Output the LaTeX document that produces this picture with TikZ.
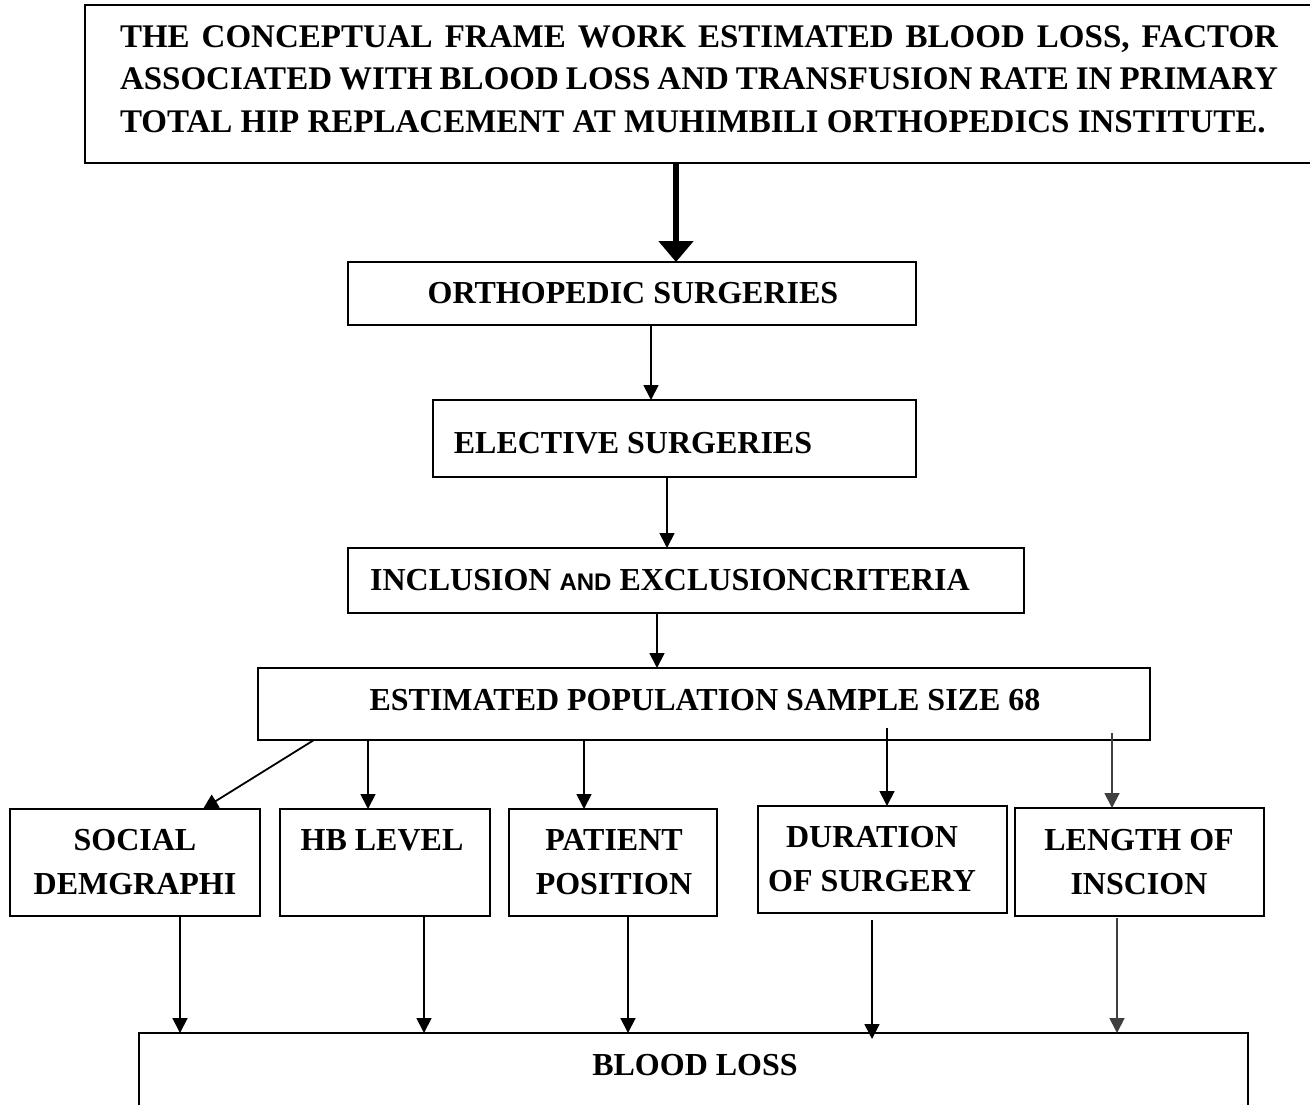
\documentclass[tikz,border=0pt]{standalone}
\usepackage{fontspec}
\setmainfont{Liberation Serif}
\newfontfamily\arialfam{Liberation Sans}
\usetikzlibrary{arrows.meta}
\begin{document}
\begin{tikzpicture}[x=1pt,y=-1pt,
  box/.style={draw=black, line width=2pt, inner sep=0pt, outer sep=0pt, rectangle},
  txt/.style={font=\fontsize{32}{44}\selectfont\bfseries, inner sep=0pt, align=center},
  arr/.style={line width=1.8pt, -{Triangle[length=15pt,width=15pt]}},
  garr/.style={arr, draw=black!75, fill=black!75},
  bigarr/.style={line width=6.5pt, -{Triangle[length=21pt,width=34pt]}}
]
\useasboundingbox (0,0) rectangle (1310,1105);

% boxes
\node[box, minimum width=1230, minimum height=158] (title) at (700,84) {};
\node[box, minimum width=568, minimum height=63] (orth) at (632,293.5) {};
\node[box, minimum width=483, minimum height=77] (elec) at (674.5,438.5) {};
\node[box, minimum width=676, minimum height=65] (incl) at (686,580.5) {};
\node[box, minimum width=892, minimum height=72] (est) at (704,704) {};
\node[box, minimum width=250, minimum height=107] (soc) at (135,862.5) {};
\node[box, minimum width=210, minimum height=107] (hb) at (385,862.5) {};
\node[box, minimum width=208, minimum height=107] (pat) at (613,862.5) {};
\node[box, minimum width=249, minimum height=107] (dur) at (882.5,859.5) {};
\node[box, minimum width=249, minimum height=108] (len) at (1139.5,862) {};
\node[box, minimum width=1109, minimum height=92] (loss) at (693.5,1079) {};

% texts
\node[inner sep=0pt, text width=1158pt, align=justify,
      font=\fontsize{33}{42.5}\selectfont\bfseries] (ttitle) at (699,79)
  {THE CONCEPTUAL FRAME WORK ESTIMATED BLOOD LOSS, FACTOR ASSOCIATED WITH BLOOD LOSS AND TRANSFUSION RATE IN PRIMARY TOTAL HIP REPLACEMENT AT MUHIMBILI ORTHOPEDICS INSTITUTE.};
\node[txt] (torth) at (633,293) {ORTHOPEDIC SURGERIES};
\node[txt] (telec) at (633,443) {ELECTIVE SURGERIES};
\node[txt] (tincl) at (670,580) {INCLUSION {\arialfam\fontsize{24}{24}\selectfont AND} EXCLUSIONCRITERIA};
\node[txt] (test) at (705,700) {ESTIMATED POPULATION SAMPLE SIZE 68};
\node[txt] (tsoc) at (135,862) {SOCIAL\\DEMGRAPHI};
\node[txt] (thb) at (382,840) {HB LEVEL};
\node[txt] (tpat) at (614,862) {PATIENT\\POSITION};
\node[txt] (tdur) at (872,859) {DURATION\\OF SURGERY};
\node[txt] (tlen) at (1139,862) {LENGTH OF\\INSCION};
\node[txt] (tloss) at (695,1065) {BLOOD LOSS};

% connectors
\draw[bigarr] ([xshift=-24pt]title.south) -- ([xshift=44pt]orth.north);
\draw[arr] ([xshift=19pt]orth.south) -- ([xshift=-23.5pt]elec.north);
\draw[arr] ([xshift=-7.5pt]elec.south) -- ([xshift=-19pt]incl.north);
\draw[arr] ([xshift=-29pt]incl.south) -- ([xshift=-47pt]est.north);

\draw[arr] ([xshift=-390pt]est.south) -- ([xshift=68pt]soc.north);
\draw[arr] ([xshift=-336pt]est.south) -- ([xshift=-17pt]hb.north);
\draw[arr] ([xshift=-120pt]est.south) -- ([xshift=-29pt]pat.north);
\draw[arr] ([xshift=183pt,yshift=12pt]est.south) -- ([xshift=4.5pt]dur.north);
\draw[garr] ([xshift=408pt,yshift=7pt]est.south) -- ([xshift=-27.5pt]len.north);

\draw[arr] ([xshift=45pt]soc.south) -- ([xshift=-513.5pt]loss.north);
\draw[arr] ([xshift=39pt]hb.south) -- ([xshift=-269.5pt]loss.north);
\draw[arr] ([xshift=15pt]pat.south) -- ([xshift=-65.5pt]loss.north);
\draw[arr] ([xshift=-10.5pt,yshift=-7pt]dur.south) -- ([xshift=178.5pt,yshift=-6pt]loss.north);
\draw[garr] ([xshift=-22.5pt,yshift=-2pt]len.south) -- ([xshift=423.5pt]loss.north);
\end{tikzpicture}
\end{document}
